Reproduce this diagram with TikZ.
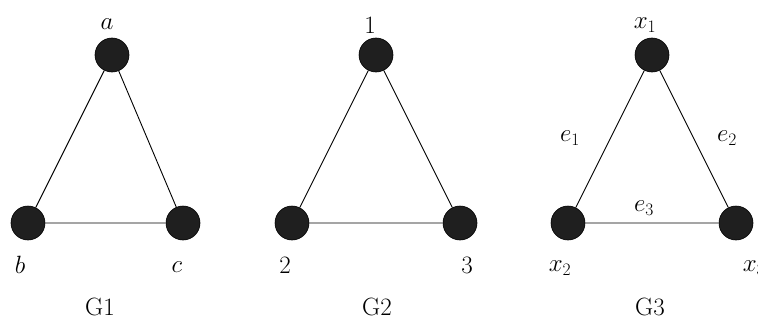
\RequirePackage{fix-cm}
\documentclass[tikz,border=0pt]{standalone}
\begin{document}
\begin{tikzpicture}[x=1pt,y=-1pt,
  vtx/.style={circle,draw=black,line width=0.6pt,fill=black!88,minimum size=34pt,inner sep=0pt},
  lbl/.style={font=\fontsize{25}{30}\selectfont,inner sep=0pt},
  edge/.style={line width=0.9pt,black}]
\useasboundingbox[fill=white] (0,0) rectangle (758,324);
% G1
\node[vtx] (a) at (112,55) {};
\node[vtx] (b) at (28,223) {};
\node[vtx] (c) at (183,223) {};
\draw[edge] (a) -- (b) (a) -- (c) (b) -- (c);
\node[lbl] (la) at (107,24) {$a$};
\node[lbl] (lb) at (20,265) {$b$};
\node[lbl] (lc) at (177,267) {$c$};
\node[lbl] (g1) at (100,307) {G1};
% G2
\node[vtx] (v1) at (376,55) {};
\node[vtx] (v2) at (292,223) {};
\node[vtx] (v3) at (460,223) {};
\draw[edge] (v1) -- (v2) (v1) -- (v3) (v2) -- (v3);
\node[lbl] (l1) at (370,25) {$1$};
\node[lbl] (l2) at (285,265) {$2$};
\node[lbl] (l3) at (467,265) {$3$};
\node[lbl] (g2) at (377,307) {G2};
% G3
\node[vtx] (x1) at (652,55) {};
\node[vtx] (x2) at (568,223) {};
\node[vtx] (x3) at (736,223) {};
\draw[edge] (x1) -- (x2) (x1) -- (x3) (x2) -- (x3);
\node[lbl] (lx1) at (645,25) {$x_1$};
\node[lbl] (lx2) at (560,268) {$x_2$};
\node[lbl] (lx3) at (754,268) {$x_3$};
\node[lbl] (le1) at (570,138) {$e_1$};
\node[lbl] (le2) at (727,138) {$e_2$};
\node[lbl] (le3) at (644,208) {$e_3$};
\node[lbl] (g3) at (650,307) {G3};
\end{tikzpicture}
\end{document}
